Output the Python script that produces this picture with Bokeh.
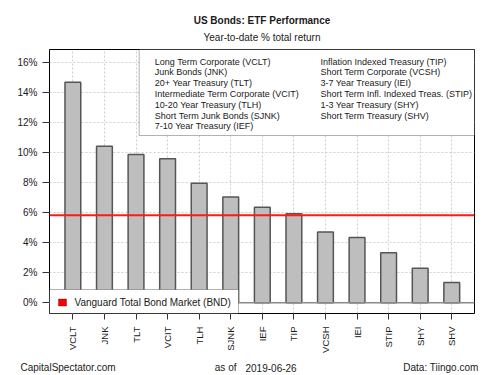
from bokeh.plotting import figure
from bokeh.layouts import column
from bokeh.models import (Range1d, FixedTicker, PrintfTickFormatter, Span, BoxAnnotation, Label)
from bokeh.embed import file_html
from bokeh.resources import INLINE

# ---- data ----
tickers = ["VCLT", "JNK", "TLT", "VCIT", "TLH", "SJNK", "IEF", "TIP", "VCSH", "IEI", "STIP", "SHY", "SHV"]
returns = [14.69, 10.42, 9.87, 9.60, 7.97, 7.04, 6.37, 5.93, 4.71, 4.35, 3.33, 2.31, 1.35]
bnd_return = 5.84
bnd_label = "Vanguard Total Bond Market (BND)"
legend_col1 = ["Long Term Corporate (VCLT)", "Junk Bonds (JNK)", "20+ Year Treasury (TLT)",
               "Intermediate Term Corporate (VCIT)", "10-20 Year Treasury (TLH)",
               "Short Term Junk Bonds (SJNK)", "7-10 Year Treasury (IEF)"]
legend_col2 = ["Inflation Indexed Treasury (TIP)", "Short Term Corporate (VCSH)",
               "3-7 Year Treasury (IEI)", "Short Term Infl. Indexed Treas. (STIP)",
               "1-3 Year Treasury (SHY)", "Short Term Treasury (SHV)"]
y_ticks = [0, 2, 4, 6, 8, 10, 12, 14, 16]
title = "US Bonds: ETF Performance"
subtitle = "Year-to-date % total return"
footer_left = "CapitalSpectator.com"
footer_asof = "as of"
footer_date = "2019-06-26"
footer_right = "Data: Tiingo.com"

FONT = "Liberation Sans"
TXT = "#1a1a1a"
W = 500
HEAD_H = 47
MAIN_H = 309
FOOT_H = 375 - HEAD_H - MAIN_H


def blank(h):
    f = figure(width=W, height=h, output_backend="svg", toolbar_location=None,
               x_axis_type=None, y_axis_type=None,
               x_range=Range1d(0, W), y_range=Range1d(0, h),
               min_border=0, min_border_left=0, min_border_right=0,
               min_border_top=0, min_border_bottom=0, frame_align=False)
    f.outline_line_color = None
    f.grid.visible = False
    f.background_fill_color = "white"
    f.border_fill_color = "white"
    return f


# ---- header ----
head = blank(HEAD_H)
head.add_layout(Label(x=261.5, y=HEAD_H - 20, x_units="screen", y_units="screen", text=title,
                      text_font=FONT, text_font_size="10px", text_font_style="bold",
                      text_color=TXT, text_align="center", text_baseline="middle"))
head.add_layout(Label(x=261.5, y=HEAD_H - 37, x_units="screen", y_units="screen", text=subtitle,
                      text_font=FONT, text_font_size="10px",
                      text_color=TXT, text_align="center", text_baseline="middle"))

# ---- main chart ----
xs = list(range(len(tickers)))

p = figure(width=W, height=MAIN_H, output_backend="svg", toolbar_location=None,
           x_range=Range1d(-0.74, len(tickers) - 1 + 0.72),
           y_range=Range1d(-0.71, 16.87),
           min_border_left=49, min_border_right=26, min_border_top=2,
           min_border_bottom=MAIN_H - 2 - 264, frame_align=False)
p.background_fill_color = "white"
p.border_fill_color = "white"
p.outline_line_color = "black"
p.outline_line_width = 1

p.xaxis.ticker = FixedTicker(ticks=xs)
p.xaxis.major_label_overrides = {i: t for i, t in zip(xs, tickers)}
p.xaxis.major_label_orientation = 3.14159265 / 2
p.yaxis.ticker = FixedTicker(ticks=y_ticks)
p.yaxis.formatter = PrintfTickFormatter(format="%d%%")
for ax in (p.xaxis, p.yaxis):
    ax.axis_line_color = None
    ax.major_tick_in = 0
    ax.major_tick_line_color = "#333333"
    ax.minor_tick_line_color = None
    ax.major_label_text_font = FONT
    ax.major_label_text_color = TXT
p.xaxis.major_tick_out = 6
p.xaxis.major_label_text_font_size = "9.5px"
p.xaxis.major_label_standoff = 7
p.yaxis.major_tick_out = 7
p.yaxis.major_label_text_font_size = "10px"
p.yaxis.major_label_standoff = 5

p.xgrid.ticker = FixedTicker(ticks=xs)
p.ygrid.ticker = FixedTicker(ticks=y_ticks)
for g in (p.xgrid, p.ygrid):
    g.grid_line_color = "#cfcfcf"
    g.grid_line_dash = "2 2"
    g.grid_line_width = 1

p.vbar(x=xs, top=returns, bottom=0, width=0.5, fill_color="#BEBEBE",
       line_color="#555555", line_width=1.5)

p.add_layout(Span(location=0, dimension="width", line_color="#8a8a8a", line_width=1.5))
p.add_layout(Span(location=bnd_return, dimension="width", line_color="#ff1a1a", line_width=2))

# top legend
p.add_layout(BoxAnnotation(left=89.7, right=425, bottom=178, top=264,
                           left_units="screen", right_units="screen",
                           bottom_units="screen", top_units="screen",
                           fill_color="white", fill_alpha=1, line_color="black", line_width=1))
for i, t in enumerate(legend_col1):
    p.add_layout(Label(x=105.3, y=252 - 10.8 * i, x_units="screen", y_units="screen", text=t,
                       text_font=FONT, text_font_size="9px", text_color=TXT, text_baseline="middle"))
for i, t in enumerate(legend_col2):
    p.add_layout(Label(x=271, y=252 - 10.8 * i, x_units="screen", y_units="screen", text=t,
                       text_font=FONT, text_font_size="9px", text_color=TXT, text_baseline="middle"))

# bottom legend
p.add_layout(BoxAnnotation(left=0, right=189, bottom=0, top=24,
                           left_units="screen", right_units="screen",
                           bottom_units="screen", top_units="screen",
                           fill_color="white", fill_alpha=1, line_color="black", line_width=1))
p.add_layout(BoxAnnotation(left=9, right=17, bottom=7.5, top=14.5,
                           left_units="screen", right_units="screen",
                           bottom_units="screen", top_units="screen",
                           fill_color="#ff0000", fill_alpha=1, line_color="black", line_width=1))
p.add_layout(Label(x=25, y=11, x_units="screen", y_units="screen", text=bnd_label,
                   text_font=FONT, text_font_size="10px", text_color=TXT, text_baseline="middle"))

# ---- footer ----
foot = blank(FOOT_H)
fy = FOOT_H - (367 - (HEAD_H + MAIN_H))
for txt, x, al in [(footer_left, 20, "left"), (footer_asof, 214.3, "left"),
                   (footer_date, 245, "left"), (footer_right, 478, "right")]:
    foot.add_layout(Label(x=x, y=fy, x_units="screen", y_units="screen", text=txt,
                          text_font=FONT, text_font_size="10px", text_color=TXT,
                          text_baseline="middle", text_align=al))

layout = column(head, p, foot, spacing=0)
open("out.html", "w").write(file_html(layout, INLINE))
